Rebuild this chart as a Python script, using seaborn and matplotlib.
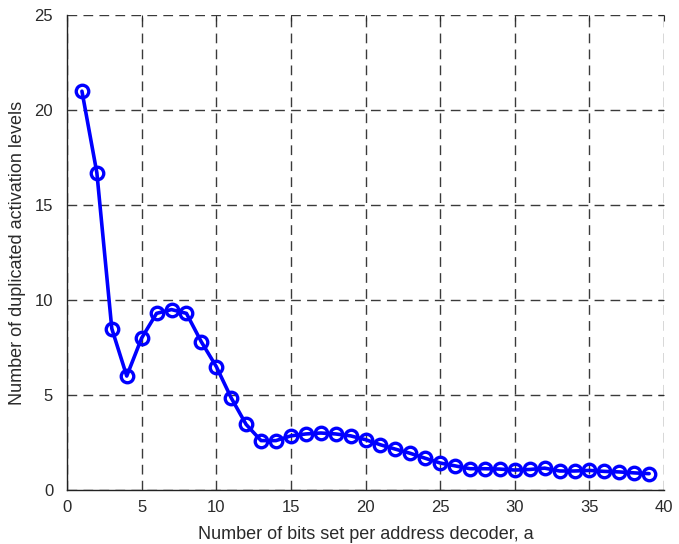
import matplotlib
matplotlib.use("Agg")
import matplotlib.pyplot as plt
import seaborn as sns
import pandas as pd

# Bits set per address decoder
bits_set = list(range(1, 40))
# Number of duplicated activation levels for each setting
dup_levels = [21.0, 16.7, 8.5, 6.0, 8.0, 9.3, 9.5, 9.3, 7.8, 6.5,
              4.85, 3.45, 2.6, 2.6, 2.85, 2.95, 3.0, 2.95, 2.85, 2.65,
              2.38, 2.15, 1.93, 1.67, 1.42, 1.27, 1.12, 1.12, 1.1, 1.05,
              1.08, 1.15, 1.0, 1.0, 1.03, 0.98, 0.95, 0.9, 0.86]

x_ticks = [0, 5, 10, 15, 20, 25, 30, 35, 40]
y_ticks = [0, 5, 10, 15, 20, 25]

df = pd.DataFrame({"a": bits_set, "levels": dup_levels})

sns.set_style("white")
plt.rcParams["font.family"] = ["Liberation Sans", "DejaVu Sans"]

fig = plt.figure(figsize=(6.79, 5.44), dpi=100)
ax = fig.add_axes([0.0987, 0.0993, 0.8793, 0.8727])

sns.lineplot(data=df, x="a", y="levels", ax=ax, color="#0000ff",
             linewidth=2.6, marker="o", markersize=9,
             markerfacecolor="none", markeredgecolor="#0000ff",
             markeredgewidth=2.4, zorder=3)

ax.set_xlim(0, 40)
ax.set_ylim(0, 25)
ax.set_xticks(x_ticks)
ax.set_yticks(y_ticks)
ax.grid(True, color="#3a3a3a", linestyle=(0, (7, 4.5)), linewidth=1.0)
ax.tick_params(axis="both", direction="in", length=4, labelsize=12,
               colors="#2a2a2a", top=True, right=True)
ax.tick_params(axis="x", pad=7)
ax.tick_params(axis="y", pad=10)
for side in ["top", "right"]:
    ax.spines[side].set_visible(False)
for side in ["left", "bottom"]:
    ax.spines[side].set_color("#222222")
    ax.spines[side].set_linewidth(1.0)

ax.set_xlabel("Number of bits set per address decoder, a", fontsize=13,
              color="#2a2a2a")
ax.set_ylabel("Number of duplicated activation levels", fontsize=13,
              color="#2a2a2a")
ax.xaxis.set_label_coords(0.5, -0.075)
ax.yaxis.set_label_coords(-0.068, 0.5)

fig.savefig("out.png", dpi=100)
